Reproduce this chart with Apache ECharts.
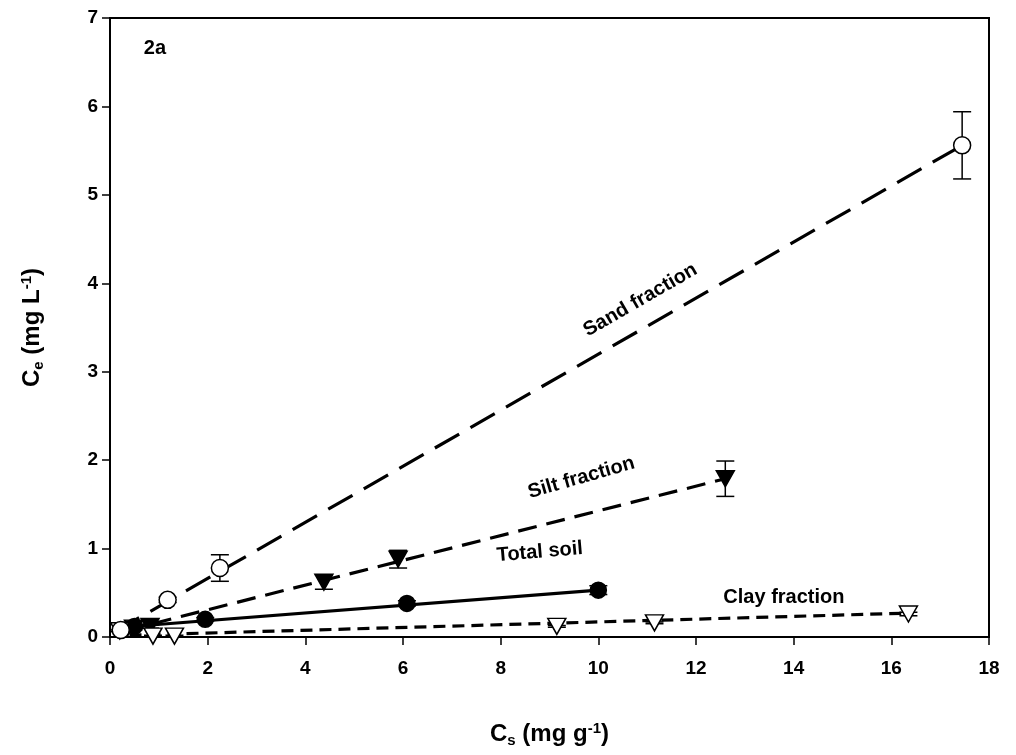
<!DOCTYPE html>
<html><head><meta charset="utf-8">
<script src="https://cdn.jsdelivr.net/npm/echarts@6/dist/echarts.min.js"></script>
<style>html,body{margin:0;padding:0;background:#fff}#c{width:1016px;height:755px}</style>
</head><body><div id="c"></div>
<script>
// Data: [Cs, Ce, errorHalf]
var sandPts = [[0.22,0.08,0.02],[1.18,0.42,0.03],[2.25,0.78,0.15],[17.45,5.56,0.38]];
var siltPts = [[0.48,0.10,0.02],[0.82,0.12,0.02],[4.38,0.62,0.08],[5.9,0.88,0.10],[12.6,1.79,0.2]];
var totalPts = [[0.25,0.08,0.01],[0.5,0.12,0.02],[1.95,0.20,0.02],[6.08,0.38,0.03],[10.0,0.53,0.05]];
var clayPts = [[0.2,0.07,0.01],[0.88,0.01,0.01],[1.32,0.01,0.01],[9.15,0.12,0.01],[11.15,0.16,0.01],[16.35,0.26,0.02]];
// fitted lines (endpoints)
var sandFit = [[0.1,0.06],[17.45,5.56]];
var siltFit = [[0.3,0.07],[12.6,1.79]];
var totalFit = [[0.25,0.11],[10.0,0.53]];
var clayFit = [[0.4,0.02],[16.35,0.27]];
var xTicks = [0,2,4,6,8,10,12,14,16,18];
var yTicks = [0,1,2,3,4,5,6,7];
var labels = [
  {text:'Sand fraction', x:10.86, y:3.81, rot:30},
  {text:'Silt fraction', x:9.65, y:1.80, rot:16},
  {text:'Total soil', x:8.8, y:0.96, rot:5},
  {text:'Clay fraction', x:13.8, y:0.45, rot:0},
  {text:'2a', x:0.92, y:6.66, rot:0}
];

var FONT = 'Liberation Sans, Arial, sans-serif';
var chart = echarts.init(document.getElementById('c'));

function errSeries(pts){
  return {
    type:'custom', z:3,
    data: pts.map(function(p){return [p[0], p[1]-p[2], p[1]+p[2]];}),
    renderItem:function(params, api){
      var lo = api.coord([api.value(0), api.value(1)]);
      var hi = api.coord([api.value(0), api.value(2)]);
      var w = 9;
      var st = {stroke:'#000', lineWidth:1.5};
      return {type:'group', children:[
        {type:'line', shape:{x1:hi[0],y1:hi[1],x2:lo[0],y2:lo[1]}, style:st},
        {type:'line', shape:{x1:hi[0]-w,y1:hi[1],x2:hi[0]+w,y2:hi[1]}, style:st},
        {type:'line', shape:{x1:lo[0]-w,y1:lo[1],x2:lo[0]+w,y2:lo[1]}, style:st}
      ]};
    }
  };
}
function fitSeries(d, dash){
  return {type:'line', data:d, symbol:'none', z:2, silent:true,
    lineStyle:{color:'#000', width:3.2, type:dash}};
}
var tri = 'path://M0,0 L20,0 L10,18 Z';
function scat(pts, sym, fill, size){
  return {type:'scatter', z:4, data:pts.map(function(p){return [p[0],p[1]];}),
    symbol:sym, symbolSize:size,
    itemStyle:{color:fill, borderColor:'#000', borderWidth:1.5, opacity:1}};
}
var rich = {
  a:{fontFamily:FONT, fontWeight:'bold', fontSize:24, color:'#000'},
  sub:{fontFamily:FONT, fontWeight:'bold', fontSize:15, color:'#000', verticalAlign:'bottom', padding:[12,0,0,0]},
  sup:{fontFamily:FONT, fontWeight:'bold', fontSize:15, color:'#000', verticalAlign:'top', padding:[0,0,12,0]}
};

chart.setOption({
  animation:false,
  grid:{left:110, right:27, top:18, bottom:118, show:true, borderColor:'#000', borderWidth:2,
    containLabel:false, outerBoundsMode:'none'},
  xAxis:{type:'value', min:0, max:18, interval:2,
    name:'{a|C}{sub|s}{a| (mg g}{sup|-1}{a|)}', nameLocation:'middle', nameGap:84,
    nameTextStyle:{rich:rich},
    axisLine:{show:true, onZero:false, lineStyle:{color:'#000', width:2}},
    axisTick:{show:true, inside:false, length:8, lineStyle:{color:'#000', width:1.5}},
    axisLabel:{fontFamily:FONT, fontWeight:'bold', fontSize:19, color:'#000', margin:22,
      formatter:function(v){return xTicks.indexOf(v)>=0 ? String(v) : '';}},
    splitLine:{show:false}},
  yAxis:{type:'value', min:0, max:7, interval:1,
    name:'{a|C}{sub|e}{a| (mg L}{sup|-1}{a|)}', nameLocation:'middle', nameGap:64, nameRotate:90,
    nameTextStyle:{rich:rich},
    axisLine:{show:true, onZero:false, lineStyle:{color:'#000', width:2}},
    axisTick:{show:true, inside:false, length:8, lineStyle:{color:'#000', width:1.5}},
    axisLabel:{fontFamily:FONT, fontWeight:'bold', fontSize:19, color:'#000', margin:12,
      formatter:function(v){return yTicks.indexOf(v)>=0 ? String(v) : '';}},
    splitLine:{show:false}},
  series:[
    fitSeries(sandFit,[28,13]),
    fitSeries(siltFit,[19,10]),
    fitSeries(totalFit,'solid'),
    fitSeries(clayFit,[12,7]),
    errSeries(sandPts), errSeries(siltPts), errSeries(totalPts), errSeries(clayPts),
    scat(totalPts,'circle','#000',16),
    scat(siltPts,tri,'#000',[18,16]),
    scat(clayPts,tri,'#fff',[18,16]),
    scat(sandPts,'circle','#fff',17)
  ]
});

var g = labels.map(function(l){
  var p = chart.convertToPixel({gridIndex:0}, [l.x, l.y]);
  return {type:'text', x:p[0], y:p[1], rotation:l.rot*Math.PI/180, z:10,
    style:{text:l.text, fontFamily:FONT, fontWeight:'bold', fontSize:20, fill:'#000',
      align:'center', verticalAlign:'middle'}};
});
chart.setOption({graphic:g});
</script></body></html>
